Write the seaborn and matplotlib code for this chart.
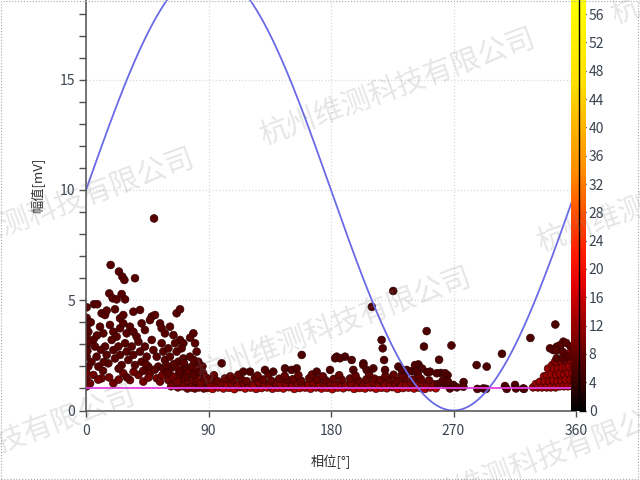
import numpy as np
import pandas as pd
import matplotlib
matplotlib.use("Agg")
import matplotlib.pyplot as plt
from matplotlib.colors import LinearSegmentedColormap, Normalize
from matplotlib.cm import ScalarMappable
from matplotlib.patches import Rectangle
import seaborn as sns

# PRPD data: phase [deg], amplitude [mV]
# positive half-cycle cluster (0-90 deg)
cluster_phase = [50.0, 18.1, 24.2, 26.7, 28.2, 36.0,
                 17.1, 19.6, 22.5, 26.2, 28.7,
                 0.5, 5.9, 8.3, 11.5, 14.0, 15.2, 21.3, 25.0, 27.4, 34.8, 39.7, 48.3, 50.7, 66.6, 69.1,
                 0.3, 1.7, 0.4, 5.4, 6.6, 10.3, 12.7, 17.6, 20.1, 22.5, 25.0, 27.4, 29.9, 32.3, 34.8,
                 37.2, 40.9, 43.3, 47.0, 54.4, 55.6, 61.7, 58.0, 64.2, 69.1, 71.5, 78.9, 76.5,
                 0.4, 0.5, 1.7, 7.8, 9.1, 14.0, 15.2, 16.4, 18.9, 20.1, 21.3, 23.8, 25.0, 26.2,
                 28.7, 29.9, 31.1, 33.6, 34.8, 36.0, 38.5, 39.7, 40.9, 43.3, 44.6, 45.8, 48.3, 49.5,
                 52.0, 53.1, 55.6, 56.8, 58.0, 60.5, 61.7, 63.0, 65.4, 66.6, 67.8, 69.1, 70.3, 71.5,
                 72.7, 74.0, 76.4, 77.6, 78.9, 80.1, 81.3, 82.5, 83.8,
                 1.0, 1.5, 0.5, 3.5, 8.0, 11.0, 13.0, 42.0, 50.5, 57.0, 60.0,
                 4.0, 12.5, 24.0, 30.0, 44.0, 59.0, 64.5, 72.0, 79.0, 85.5]
cluster_mv = [8.71, 6.6, 6.3, 6.07, 5.92, 6.0,
              5.31, 5.09, 5.04, 5.28, 5.04,
              4.68, 4.82, 4.82, 4.41, 4.33, 4.53, 4.59, 4.18, 4.33, 4.48, 4.56, 4.26, 4.33, 4.41, 4.59,
              3.8, 3.57, 3.35, 3.2, 2.9, 3.8, 3.5, 3.88, 3.57, 3.35, 3.73, 3.95, 3.5, 3.8, 3.57,
              3.35, 3.95, 3.65, 4.1, 3.95, 3.73, 3.8, 3.5, 3.42, 3.2, 3.05, 3.5, 3.3,
              2.9, 2.44, 1.99, 2.44, 1.99, 2.9, 2.52, 2.14, 3.2, 2.74, 2.36, 2.9, 2.52, 2.06,
              3.05, 2.67, 2.29, 2.9, 2.52, 2.06, 3.12, 2.67, 2.21, 2.9, 2.44, 1.99, 3.2, 2.74,
              2.44, 1.99, 3.05, 2.67, 2.29, 2.82, 2.44, 1.99, 3.05, 2.67, 2.21, 1.76, 2.82, 2.36,
              1.99, 1.53, 2.44, 1.99, 1.61, 3.05, 2.67, 2.21, 1.76,
              2.7, 3.1, 4.2, 4.0, 3.4, 2.75, 2.2, 1.8, 1.85, 1.9, 1.7,
              2.2, 1.8, 1.9, 1.5, 2.1, 2.05, 2.1, 2.15, 2.3, 2.0]

cluster_low_phase = [0.3, 0.5, 3.0, 5.4, 11.5, 20.1, 27.4, 32.3, 38.5, 42.1, 47.0, 52.0, 54.4,
                     58.0, 60.5, 64.2, 66.6, 69.1, 72.7, 75.2, 78.9, 81.3, 85.0, 88.7, 0.5, 62.5,
                     67.5, 71.0, 74.5, 77.5, 80.0, 83.0, 86.5, 70.5, 73.5, 76.0, 79.5, 84.5, 86.0, 88.0,
                     62.0, 68.0, 75.5, 82.0, 87.0, 63.5, 67.0, 81.5, 84.0, 56.0, 46.0, 35.0,
                     24.0, 17.0, 9.0]
cluster_low_mv = [1.69, 1.38, 1.23, 1.61, 1.46, 1.23, 1.69, 1.38, 1.61, 1.31, 1.69, 1.46, 1.31,
                  1.69, 1.38, 1.23, 1.53, 1.31, 1.46, 1.23, 1.31, 1.16, 1.16, 1.23, 1.1, 1.1,
                  1.05, 1.1, 1.0, 1.05, 1.0, 1.05, 1.0, 1.7, 1.75, 1.85, 1.9, 1.45, 1.7, 1.5,
                  1.9, 1.85, 1.7, 1.95, 1.3, 1.55, 1.3, 1.45, 1.2, 1.6, 1.5, 1.75,
                  1.4, 1.5, 1.4]

# low-level band 90-260 deg
band_core_phase = [89, 93, 97, 101, 105, 109, 113, 117, 121, 125, 129, 133, 137, 141, 145, 149,
                   153, 157, 161, 165, 169, 173, 177, 181, 185, 189, 193, 197, 201, 205, 209, 213,
                   217, 221, 225, 229, 233, 237, 241, 245, 249, 253, 257]
band_core_mv = [1.02, 0.98, 1.05, 1.0, 1.03, 0.97, 1.06, 1.0, 1.04, 0.98, 1.02, 1.05, 0.99, 1.03,
                1.0, 1.06, 0.98, 1.02, 1.04, 0.99, 1.05, 1.0, 1.03, 0.97, 1.04, 1.01, 1.06, 0.98,
                1.02, 1.0, 1.05, 0.99, 1.03, 1.01, 1.06, 0.98, 1.02, 1.04, 1.0, 1.03, 0.98, 1.05, 1.01]
band_mid_phase = [91, 95.5, 99, 103.5, 107, 111, 115.5, 119, 123, 127.5, 131, 135, 139.5, 143,
                  147, 151.5, 155, 159, 163.5, 167, 171, 175.5, 179, 183, 187.5, 191, 195, 199.5,
                  203, 207, 211.5, 215, 219, 223.5, 227, 231, 235.5, 239, 243, 247.5, 251, 255]
band_mid_mv = [1.2, 1.15, 1.25, 1.18, 1.22, 1.14, 1.27, 1.19, 1.16, 1.24, 1.2, 1.13, 1.26, 1.18,
               1.22, 1.15, 1.25, 1.2, 1.17, 1.23, 1.14, 1.21, 1.26, 1.18, 1.2, 1.15, 1.24, 1.19,
               1.22, 1.16, 1.25, 1.18, 1.21, 1.14, 1.23, 1.2, 1.17, 1.26, 1.19, 1.22, 1.15, 1.2]
band_high_phase = [90, 96, 102, 108, 114, 118, 124, 130, 136, 142, 148, 152, 158, 164, 170, 176,
                   182, 188, 194, 200, 206, 212, 216, 222, 228, 234, 240, 246, 252,
                   94, 106, 112, 126, 134, 146, 156, 166, 174, 186, 198, 208, 220, 226, 232, 244]
band_high_mv = [1.4, 1.35, 1.45, 1.38, 1.42, 1.33, 1.47, 1.4, 1.36, 1.44, 1.38, 1.42, 1.35, 1.46,
                1.4, 1.37, 1.43, 1.39, 1.45, 1.36, 1.41, 1.44, 1.38, 1.42, 1.35, 1.47, 1.4, 1.43, 1.37,
                1.6, 1.55, 1.62, 1.58, 1.65, 1.57, 1.6, 1.63, 1.55, 1.6, 1.58, 1.64, 1.56, 1.62, 1.59, 1.6]

# sparse pulses
sparse_phase = [99.7, 115.6, 120.5, 131.5, 137.6, 146.2, 151.1, 154.8, 158.5, 169.5, 179.3, 184.2,
                190.3, 195.2, 203.8, 196.4, 206.2, 211.1, 217.2, 218.0, 219.0, 219.7, 235.6, 225.7,
                210.0, 250.3, 248.3, 268.5, 259.4, 244.2, 239.2, 247.0, 250.8, 260.6, 265.6, 277.4,
                229.5, 232.0, 236.8, 241.7, 242.9, 252.7, 257.7, 263.8, 287.0, 294.4, 305.6, 326.5,
                344.8, 183.0, 186.6, 203.7,
                263.8, 267.4, 269.9, 277.2, 287.5, 291.9, 293.9, 307.8, 309.1, 315.2, 315.9, 321.3,
                321.8, 272.5, 258.5, 262.0, 266.0]
sparse_mv = [2.14, 1.76, 1.76, 1.84, 1.76, 1.91, 1.84, 1.91, 2.52, 1.76, 1.84, 2.44,
             2.44, 2.29, 2.14, 1.84, 1.84, 1.91, 3.2, 2.82, 2.29, 1.84, 1.84, 5.42,
             4.7, 3.6, 2.9, 2.95, 2.3, 2.09, 1.79, 1.9, 1.74, 1.7, 1.6, 1.29,
             1.99, 1.84, 1.76, 2.06, 1.76, 1.76, 1.69, 1.69, 2.06, 1.99, 2.57, 3.29,
             3.9, 2.37, 2.37, 2.06,
             1.16, 1.0, 1.16, 1.08, 0.98, 1.0, 0.98, 1.11, 0.98, 1.16, 1.0, 1.0,
             0.98, 1.05, 1.2, 1.35, 1.3]

# negative half-cycle onset cluster (330-360 deg)
right_phase = [328.5, 330.5, 332.0, 333.5, 335.0, 336.5, 337.0, 338.5, 339.0, 339.5, 340.5, 341.5,
               342.0, 342.5, 343.5, 344.0, 344.6, 345.0, 345.5, 346.0, 346.5, 347.0, 348.0, 348.5,
               349.0, 349.5, 350.0, 351.0, 351.5, 352.0, 352.5, 353.0, 354.0, 354.5, 355.0, 355.5,
               356.0, 356.5, 357.5, 357.5, 358.0, 358.5]
right_mv = [1.05, 1.2, 1.05, 1.3, 1.05, 1.55, 1.3, 1.05, 1.6, 1.9, 1.3, 1.05,
            1.65, 2.06, 1.35, 1.9, 2.21, 1.05, 1.6, 2.2, 1.3, 1.9, 1.1, 1.65,
            2.25, 1.35, 1.95, 1.1, 1.6, 2.3, 1.4, 1.95, 1.1, 1.7, 2.0, 2.6,
            1.4, 2.3, 1.1, 1.7, 2.0, 1.35]
right_top_phase = [340.9, 343.3, 345.8, 348.2, 350.7, 345.8, 350.7, 354.3, 348.0, 352.8, 345.5,
                   350.4, 356.0, 358.5]
right_top_mv = [2.82, 2.74, 2.89, 2.82, 3.12, 2.37, 2.37, 2.44, 2.95, 3.06, 2.73, 2.65, 2.9, 2.7]

# pulse count (colour) of each group
group_names = ["band_core", "right", "cluster_low", "band_mid", "band_high",
               "cluster", "right_top", "sparse"]
group_counts = [14, 12, 9, 10, 8, 7, 7, 6]

threshold_mv = 1.0
sine_offset = 10.0
sine_amplitude = 10.0
watermark = "杭州维测科技有限公司"
watermark_centers = [(397, 88), (56, 208), (333, 327), (-3, 445), (674, 195), (748, -33), (538, 461)]
cbar_max = 58

groups = {
    "band_core": (band_core_phase, band_core_mv),
    "right": (right_phase, right_mv),
    "cluster_low": (cluster_low_phase, cluster_low_mv),
    "band_mid": (band_mid_phase, band_mid_mv),
    "band_high": (band_high_phase, band_high_mv),
    "cluster": (cluster_phase, cluster_mv),
    "right_top": (right_top_phase, right_top_mv),
    "sparse": (sparse_phase, sparse_mv),
}
frames = []
for name, cnt in zip(group_names, group_counts):
    ph, mv = groups[name]
    frames.append(pd.DataFrame({"phase": ph, "mv": mv, "count": cnt}))
df = pd.concat(frames, ignore_index=True)

sine_phase = np.linspace(0, 360, 361)
sine_mv = sine_offset + sine_amplitude * np.sin(np.deg2rad(sine_phase))

cmap = LinearSegmentedColormap.from_list("prpd", [
    (0.0, "#000000"), (0.07, "#3a0000"), (0.14, "#650000"), (0.21, "#9a0000"),
    (0.3, "#e00000"), (0.38, "#ff1a00"), (0.48, "#ff5000"), (0.58, "#ff8c00"),
    (0.7, "#ffb800"), (0.8, "#ffe000"), (1.0, "#ffff00")])
norm = Normalize(0, cbar_max)

sns.set_theme(style="white")
plt.rcParams["font.family"] = ["Noto Sans CJK SC", "DejaVu Sans"]

fig = plt.figure(figsize=(6.4, 4.8), dpi=100)
ax = fig.add_axes([86 / 640, 69.5 / 480, 490 / 640, 410.5 / 480])

sns.scatterplot(data=df, x="phase", y="mv", hue="count", palette=cmap, hue_norm=norm,
                s=32, edgecolor="#2a0000", linewidth=0.4, legend=False, ax=ax)
sns.lineplot(x=sine_phase, y=sine_mv, color="#6a6ae6", lw=1.3, ax=ax)
ax.axhline(threshold_mv, color="#e040e0", lw=1.3, zorder=5)

ax.set_xlim(0, 360)
ax.set_ylim(0, 410.5 / 22.05)
ax.set_xticks([0, 90, 180, 270, 360])
ax.set_yticks([0, 5, 10, 15])
ax.yaxis.set_minor_locator(matplotlib.ticker.MultipleLocator(1))
ax.grid(True, which="major", color="#dadada", ls=":", lw=0.9)
for s in ["top", "right"]:
    ax.spines[s].set_visible(False)
for s in ["left", "bottom"]:
    ax.spines[s].set_color("#505050")
    ax.spines[s].set_linewidth(1.1)
ax.tick_params(axis="x", which="major", bottom=True, direction="out", length=4, width=1,
               color="#505050", labelsize=10, labelcolor="#3a4450", pad=6)
ax.tick_params(axis="y", which="both", left=True, direction="out", length=5, width=1,
               color="#505050", labelsize=10, labelcolor="#3a4450", pad=3)

ax.set_xlabel("相位[°]", fontsize=9.5, color="#303030")
ax.set_ylabel("幅值[mV]", fontsize=9.5, color="#303030")
ax.xaxis.set_label_coords(0.5, -51.5 / 410.5)
ax.xaxis.label.set_va("center")
ax.yaxis.set_label_coords(-48 / 490, 225 / 410.5)
ax.yaxis.label.set_va("center")

cax = fig.add_axes([571 / 640, 69.5 / 480, 15 / 640, 410.5 / 480])
cb = fig.colorbar(ScalarMappable(norm=norm, cmap=cmap), cax=cax)
cb.set_ticks(list(range(0, 57, 4)))
cb.outline.set_visible(False)
cax.axvline(0.55, color="black", lw=1)
cax.tick_params(right=True, direction="in", length=5, width=1, color="black",
                labelsize=10, labelcolor="#3a4450", pad=2)

for cx, cy in watermark_centers:
    fig.text(cx / 640, 1 - cy / 480, watermark, fontsize=21, rotation=20,
             rotation_mode="anchor", ha="center", va="center",
             color="#808080", alpha=0.2, zorder=20,
             family=["Noto Sans CJK SC", "DejaVu Sans"])

fig.patches.append(Rectangle((0.002, 0.003), 0.995, 0.994, transform=fig.transFigure,
                             fill=False, ls=":", ec="#a8a8a8", lw=0.8))

fig.savefig("out.png", dpi=100)
